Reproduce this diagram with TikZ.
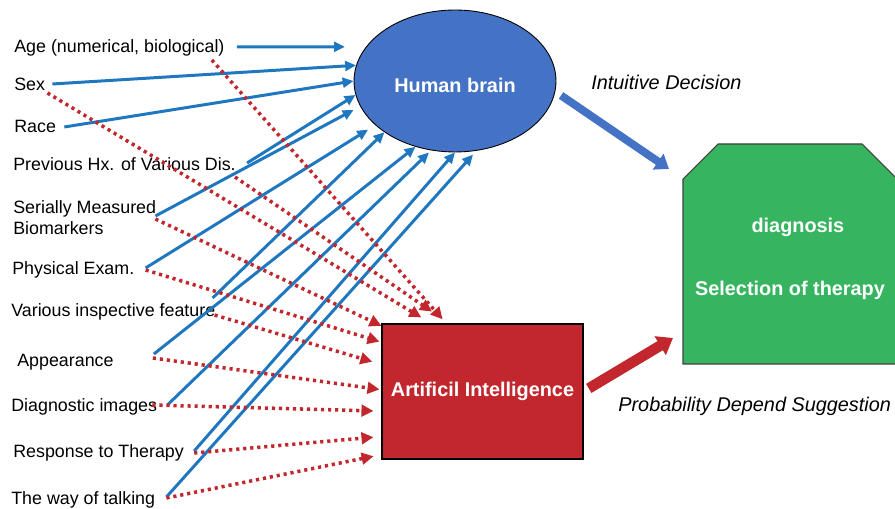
\documentclass[tikz,border=0pt]{standalone}
\usepackage{fontspec}
\setmainfont{Liberation Sans}
\usetikzlibrary{arrows.meta,shapes.geometric,calc}
\definecolor{brainblue}{HTML}{4472C4}
\definecolor{lineblue}{HTML}{1F77C0}
\definecolor{aired}{HTML}{C1272D}
\definecolor{dxgreen}{HTML}{36B45F}
\tikzset{
  lbl/.style={anchor=base west, inner sep=0pt, font=\fontsize{10.15}{11.9}\selectfont},
  note/.style={anchor=base west, inner sep=0pt, font=\fontsize{11.3}{13.5}\selectfont\itshape},
  bigtxt/.style={text=white, font=\fontsize{11.3}{13.5}\selectfont\bfseries},
  tobrain/.style={draw=lineblue, line width=1.7pt, -{Triangle[length=6.2pt,width=5.6pt]}},
  toai/.style={draw=aired, line width=2pt, dash pattern=on 1.8pt off 2.2pt, -{Triangle[length=6.8pt,width=6.6pt]}},
}

\begin{document}
\begin{tikzpicture}[x=0.02cm, y=-0.02cm]
        \useasboundingbox (0,0) rectangle (895,509);
        \node [ellipse, draw=black, line width=0.5pt, fill=brainblue, minimum width=4.04cm, minimum height=2.84cm, inner sep=0pt, text height=13.3pt, text depth=0pt, bigtxt] (hb) at (455,81) {Human brain};
        \node [rectangle, draw=black, line width=0.7pt, fill=aired, minimum width=4.02cm, minimum height=2.7cm, inner sep=0pt, bigtxt] (ai) at (482.5,391.5) {Artificil Intelligence};
        \filldraw [draw=black!75, line width=0.6pt, fill=dxgreen] (683,364) -- (683,179) -- (718,144) -- (862,144) -- (897,179) -- (897,364) -- cycle;
        \node [align=center, inner sep=0pt, bigtxt] (dx) at (790,259) {\hspace*{9pt}diagnosis\\[22.2pt]Selection of therapy};

        \node [lbl] (age) at (14,52.4) {Age (numerical, biological)};
        \node [lbl] (sex) at (14,90.4) {Sex};
        \node [lbl] (race) at (14,132.4) {Race};
        \node [lbl] (prevhx) at (13,170.4) {Previous Hx. of Various Dis.};
        \node [lbl, anchor=west, align=left] (serial) at (13,217.5) {Serially Measured\\Biomarkers};
        \node [lbl] (phys) at (12,274.4) {Physical Exam.};
        \node [lbl] (insp) at (11,316.4) {Various inspective feature};
        \node [lbl] (appear) at (17,366.4) {Appearance};
        \node [lbl] (dximg) at (11,411.4) {Diagnostic images};
        \node [lbl] (resp) at (13,457.4) {Response to Therapy};
        \node [lbl] (talk) at (11,504.4) {The way of talking};

        \node [note] (intu) at (591,90) {Intuitive Decision};
        \node [note] (prob) at (618,412) {Probability Depend Suggestion};
        \coordinate (intutip) at (669,169);
        \coordinate (probtip) at (673,338);

        \draw [tobrain, shorten >=0.42cm] ($(age.base east)+(12,-5.4)$) -- (hb.159);
        \draw [tobrain] ($(sex.base east)+(7,-6.4)$) -- (hb.171);
        \draw [tobrain] ($(race.base east)+(8,-5.4)$) -- (hb.180);
        \draw [tobrain] ($(prevhx.base east)+(11,-7.4)$) -- (hb.188);
        \draw [tobrain, shorten >=0.15cm] ($(serial.east)+(-1,-1.5)$) -- (hb.195);
        \draw [tobrain, shorten >=0.17cm] ($(phys.base east)+(11,-6.4)$) -- (hb.209.5);
        \draw [tobrain] ($(insp.base east)+(-3,-18.4)$) -- (hb.216);
        \draw [tobrain] ($(appear.base east)+(40,-12.4)$) -- (hb.239.6);
        \draw [tobrain, shorten >=0.06cm] ($(dximg.base east)+(10,-6.4)$) -- (hb.251);
        \draw [tobrain] ($(resp.base east)+(10,-6.4)$) -- (hb.270);
        \draw [tobrain, shorten >=0.1cm] ($(talk.base east)+(11,-7.4)$) -- (hb.287);

        \draw [toai, shorten >=0.11cm] ($(age.base east)+(-13,7.6)$) -- (ai.118);
        \draw [toai, shorten >=0.23cm] ($(sex.base east)+(2,2.6)$) -- (ai.127);
        \draw [toai, shorten >=0.42cm] ($(prevhx.base east)+(-1,6.6)$) -- (ai.116);
        \draw [toai] ($(serial.east)+(-1,1.5)$) -- (ai.147.7);
        \draw [toai, shorten >=0.04cm] ($(phys.base east)+(11,-4.4)$) -- (ai.154.5);
        \draw [toai, shorten >=0.19cm] ($(insp.base east)+(-1,-1.4)$) -- (ai.165.7);
        \draw [toai, shorten >=0.04cm] ($(appear.base east)+(39,-8.4)$) -- (ai.179.3);
        \draw [toai, shorten >=0.16cm] ($(dximg.base east)+(-5,-6.4)$) -- (ai.191.6);
        \draw [toai, shorten >=0.16cm] ($(resp.base east)+(10,-4.4)$) -- (ai.204.5);
        \draw [toai, shorten >=0.16cm] ($(talk.base east)+(11,-6.4)$) -- (ai.212.4);

        \draw [brainblue, line width=4.5pt, -{Triangle[length=7.5pt,width=10.5pt]}, shorten <=0.14cm] (hb.-6) -- (intutip);
        \draw [aired, line width=6pt, -{Triangle[length=8.5pt,width=12pt]}, shorten <=0.12cm] (ai.east) -- (probtip);
\end{tikzpicture}
\end{document}
